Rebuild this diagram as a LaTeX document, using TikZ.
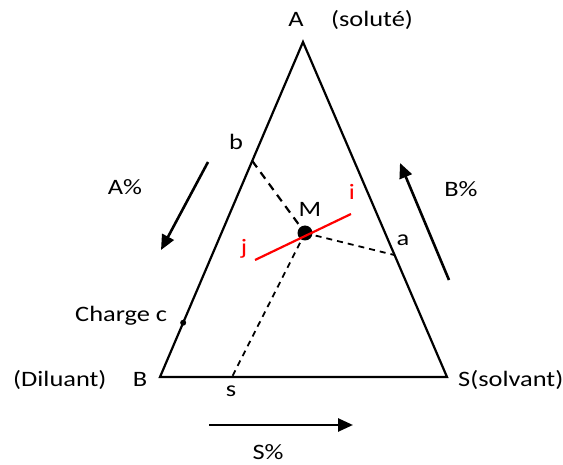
\documentclass[tikz,border=0pt]{standalone}
\usepackage{fontspec}
\setmainfont{Carlito}[FakeStretch=1.2]
\usetikzlibrary{arrows.meta,calc}
\begin{document}
\begin{tikzpicture}[x=1pt,y=-1pt,
  side/.style={line width=2.2pt, line join=miter},
  dash line/.style={line width=1.8pt, dash pattern=on 6pt off 5pt},
  bigarrow/.style={line width=2.6pt, -{Triangle[length=15pt,width=13pt]}},
  lbl/.style={anchor=base, inner sep=0pt, font=\fontsize{22}{26}\selectfont},
  redlbl/.style={lbl, text=red},
  pt/.style={circle, fill=black, inner sep=0pt}]
\useasboundingbox (0,0) rectangle (563,465);
\coordinate (A) at (303,42);
\coordinate (B) at (160,377);
\coordinate (S) at (447,377);
\draw[side] (A) -- (B) -- (S) -- cycle;
\coordinate (b) at ($(A)!0.355!(B)$);
\coordinate (a) at ($(A)!0.636!(S)$);
\coordinate (s) at (232,377);
\node[pt, minimum size=15pt] (M) at (305,233) {};
\node[pt, minimum size=6pt] (c) at ($(A)!0.838!(B)$) {};
\draw[dash line, dash pattern=on 8pt off 6pt, line width=2.2pt] (b) -- (M.center);
\draw[dash line] (M.center) -- (a);
\draw[dash line] (M.center) -- (s);
\coordinate (j1) at (255,260);
\coordinate (i1) at (351,214);
\draw[red, line width=2.2pt] (j1) -- (i1);
\node[lbl] (lA) at (296,27) {A};
\node[lbl] (lsolute) at (372,27) {(soluté)};
\node[lbl] (lb) at (236,150) {b};
\node[lbl] (lM) at (310,217) {M};
\node[redlbl] (li) at (352,200) {i};
\node[redlbl] (lj) at (244,255) {j};
\node[lbl] (la) at (403,246) {a};
\node[lbl] (lAp) at (125,195) {A\%};
\node[lbl] (lBp) at (461,197) {B\%};
\node[lbl] (lSp) at (268,460) {S\%};
\node[lbl, anchor=base west] (lc) at (75,322) {Charge c};
\node[lbl, anchor=base west] (lD) at (13,387) {(Diluant)};
\node[lbl] (lB) at (140,387) {B};
\node[lbl, anchor=base west] (lS) at (458,387) {S(solvant)};
\node[lbl] (ls) at (231,397) {s};
\coordinate (a1s) at (208,162);
\coordinate (a1e) at (161,250);
\coordinate (a2s) at (449,280);
\coordinate (a2e) at (400,163);
\coordinate (a3s) at (209,425);
\coordinate (a3e) at (353,425);
\draw[bigarrow] (a1s) -- (a1e);
\draw[bigarrow] (a2s) -- (a2e);
\draw[bigarrow] (a3s) -- (a3e);
\end{tikzpicture}
\end{document}
